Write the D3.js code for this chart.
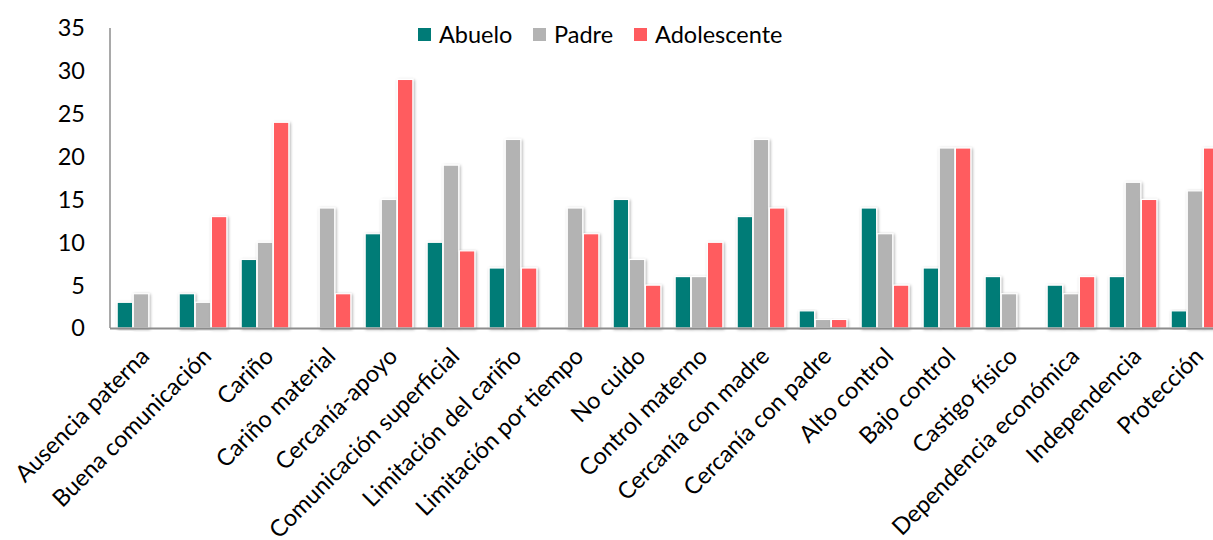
<!DOCTYPE html>
<html>
<head>
<meta charset="utf-8">
<script src="https://cdn.jsdelivr.net/npm/d3@7"></script>
<style>
  body { margin: 0; background: white; overflow: hidden; }
  text { font-family: Lato, "Open Sans", sans-serif; fill: #000; }
</style>
</head>
<body>
<div id="chart"></div>
<script>
// Data
const categories = ["Ausencia paterna", "Buena comunicación", "Cariño", "Cariño material",
  "Cercanía-apoyo", "Comunicación superficial", "Limitación del cariño", "Limitación por tiempo",
  "No cuido", "Control materno", "Cercanía con madre", "Cercanía con padre", "Alto control",
  "Bajo control", "Castigo físico", "Dependencia económica", "Independencia", "Protección"];
const seriesNames = ["Abuelo", "Padre", "Adolescente"];
const abuelo      = [3, 4, 8, 0, 11, 10, 7, 0, 15, 6, 13, 2, 14, 7, 6, 5, 6, 2];
const padre       = [4, 3, 10, 14, 15, 19, 22, 14, 8, 6, 22, 1, 11, 21, 4, 4, 17, 16];
const adolescente = [0, 13, 24, 4, 29, 9, 7, 11, 5, 10, 14, 1, 5, 21, 0, 6, 15, 21];
const yTicks = [0, 5, 10, 15, 20, 25, 30, 35];
const colors = ["#007B77", "#B3B3B3", "#FF5B5F"];

const width = 1213, height = 540;
const margin = {left: 110, top: 28, bottom: 212};
const step = 62;

const svg = d3.select("#chart").append("svg")
  .attr("width", width).attr("height", height);

const defs = svg.append("defs");
const filt = defs.append("filter").attr("id", "shadow")
  .attr("x", "-30%").attr("y", "-10%").attr("width", "160%").attr("height", "120%");
filt.append("feDropShadow").attr("dx", 1).attr("dy", 1).attr("stdDeviation", 1.6)
  .attr("flood-color", "#000").attr("flood-opacity", 0.35);

const x0 = d3.scaleBand()
  .domain(categories)
  .range([margin.left, margin.left + step * categories.length])
  .paddingInner(0.21).paddingOuter(0.105);

const x1 = d3.scaleBand()
  .domain(seriesNames)
  .range([0, x0.bandwidth()])
  .padding(0.04);

const y = d3.scaleLinear()
  .domain([0, 35])
  .range([height - margin.bottom, margin.top]);

const rows = categories.map((c, i) => ({
  cat: c,
  vals: [abuelo[i], padre[i], adolescente[i]]
}));

// bars
const groups = svg.append("g").selectAll("g")
  .data(rows).enter().append("g")
  .attr("transform", d => "translate(" + x0(d.cat) + ",0)");

groups.selectAll("rect")
  .data(d => d.vals.map((v, j) => ({name: seriesNames[j], v: v, j: j})))
  .enter().append("rect")
  .filter(d => d.v > 0)
  .attr("x", d => x1(d.name))
  .attr("width", x1.bandwidth())
  .attr("y", d => y(d.v))
  .attr("height", d => y(0) - y(d.v))
  .attr("fill", d => colors[d.j])
  .attr("stroke", "white")
  .attr("stroke-width", 1.2)
  .attr("filter", "url(#shadow)");

// axes lines
svg.append("line")
  .attr("x1", margin.left).attr("x2", margin.left)
  .attr("y1", y(35)).attr("y2", y(0))
  .attr("stroke", "#8c8c8c").attr("stroke-width", 1.5);
svg.append("line")
  .attr("x1", margin.left).attr("x2", width)
  .attr("y1", y(0) + 0.5).attr("y2", y(0) + 0.5)
  .attr("stroke", "#8c8c8c").attr("stroke-width", 2);

// y tick labels
svg.append("g").selectAll("text")
  .data(yTicks).enter().append("text")
  .attr("x", 85)
  .attr("y", d => y(d))
  .attr("dy", "0.36em")
  .attr("text-anchor", "end")
  .style("font-size", "23.5px")
  .text(d => d);

// x category labels
svg.append("g").selectAll("text")
  .data(categories).enter().append("text")
  .attr("transform", d => "translate(" + (x0(d) + x0.bandwidth() / 2 + 4) + "," + (y(0) + 24) + ") rotate(-45)")
  .attr("text-anchor", "end")
  .attr("dy", "0.35em")
  .style("font-size", "23.5px")
  .text(d => d);

// legend
const legendX = [418, 533, 634];
const legend = svg.append("g").selectAll("g")
  .data(seriesNames).enter().append("g")
  .attr("transform", (d, i) => "translate(" + legendX[i] + ",28)");
legend.append("rect")
  .attr("width", 13).attr("height", 13)
  .attr("fill", (d, i) => colors[i]);
legend.append("text")
  .attr("x", 21).attr("y", 7)
  .attr("dy", "0.36em")
  .style("font-size", "23.5px")
  .text(d => d);
</script>
</body>
</html>
